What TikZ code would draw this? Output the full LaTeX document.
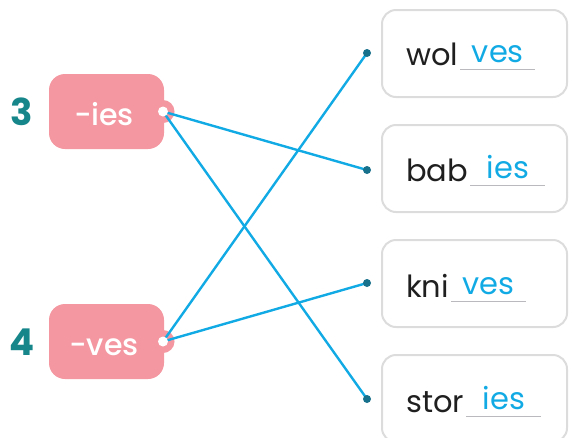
\documentclass[tikz,border=0pt]{standalone}
\usepackage{fontspec}
\setmainfont{Poppins}
\newfontfamily\popmed{Poppins Medium}
\usetikzlibrary{calc}
\definecolor{pinkc}{RGB}{244,151,160}
\definecolor{tealnum}{RGB}{22,134,138}
\definecolor{lineblue}{RGB}{18,170,228}
\definecolor{dotc}{RGB}{23,112,140}
\definecolor{boxgray}{RGB}{220,220,220}
\definecolor{ulgray}{RGB}{185,185,190}
\tikzset{
  tagbox/.style={fill=pinkc, rounded corners=16pt, minimum width=115pt, minimum height=75pt, inner sep=0pt},
  tagtext/.style={text=white, font=\popmed\fontsize{30}{30}\selectfont, inner sep=0pt, anchor=base},
  numtext/.style={text=tealnum, font=\fontsize{37}{37}\selectfont\bfseries, inner sep=0pt, anchor=base},
  wordbox/.style={draw=boxgray, line width=2pt, rounded corners=14pt, minimum width=185pt, minimum height=87pt, inner sep=0pt},
  stemtext/.style={text=black!88, font=\fontsize{30.5}{30}\selectfont, inner sep=0pt, anchor=base west},
  anstext/.style={text=lineblue, font=\fontsize{30.5}{30}\selectfont, inner sep=0pt, anchor=base},
  uline/.style={draw=ulgray, line width=1.8pt},
  link/.style={draw=lineblue, line width=2.4pt},
  enddot/.style={fill=dotc},
}
\begin{document}
\begin{tikzpicture}[x=1pt,y=-1pt]
\useasboundingbox (0,0) rectangle (572,437);
\clip (0,0) rectangle (572,437);

% number labels
\node[numtext] (n3) at (22,125) {3};
\node[numtext] (n4) at (22,355) {4};

% pink tags
\node[tagbox] (ies) at (106.5,111.5) {};
\fill[pinkc] (163,111.5) circle (11.5pt);
\coordinate (iesdot) at (163,111.5);
\node[tagtext] (iest) at (104,125) {-ies};

\node[tagbox] (ves) at (106.5,341.5) {};
\fill[pinkc] (163,341.5) circle (11.5pt);
\coordinate (vesdot) at (163,341.5);
\node[tagtext] (vest) at (104,355) {-ves};

% word boxes
\node[wordbox] (b1) at (474.5,53.5) {};
\node[wordbox] (b2) at (474.5,168.5) {};
\node[wordbox] (b3) at (474.5,283.5) {};
\node[wordbox] (b4) at (474.5,398.5) {};

% dots at the left of word boxes
\coordinate (d1) at (367,53);
\coordinate (d2) at (367,170);
\coordinate (d3) at (367,283);
\coordinate (d4) at (367,399);

% words
\node[stemtext] (w1) at (406,65) {wol};
\node[stemtext] (w2) at (406,181) {bab};
\node[stemtext] (w3) at (406,297) {kni};
\node[stemtext] (w4) at (406,412) {stor};

\foreach \w/\a in {w1/ves, w2/ies, w3/ves, w4/ies}{
  \coordinate (\w u) at ($(\w.base east)+(2,4.5)$);
  \draw[uline] (\w u) -- ++(75,0);
  \node[anstext] (\w a) at ($(\w.base east)+(39.5,-2.5)$) {\a};
}

% links
\draw[link] (iesdot) -- (d2);
\draw[link] (iesdot) -- (d4);
\draw[link] (vesdot) -- (d1);
\draw[link] (vesdot) -- (d3);

\fill[white] (iesdot) circle (5pt);
\fill[white] (vesdot) circle (5pt);
\foreach \d in {d1,d2,d3,d4}{\fill[enddot] (\d) circle (4pt);}
\end{tikzpicture}
\end{document}
